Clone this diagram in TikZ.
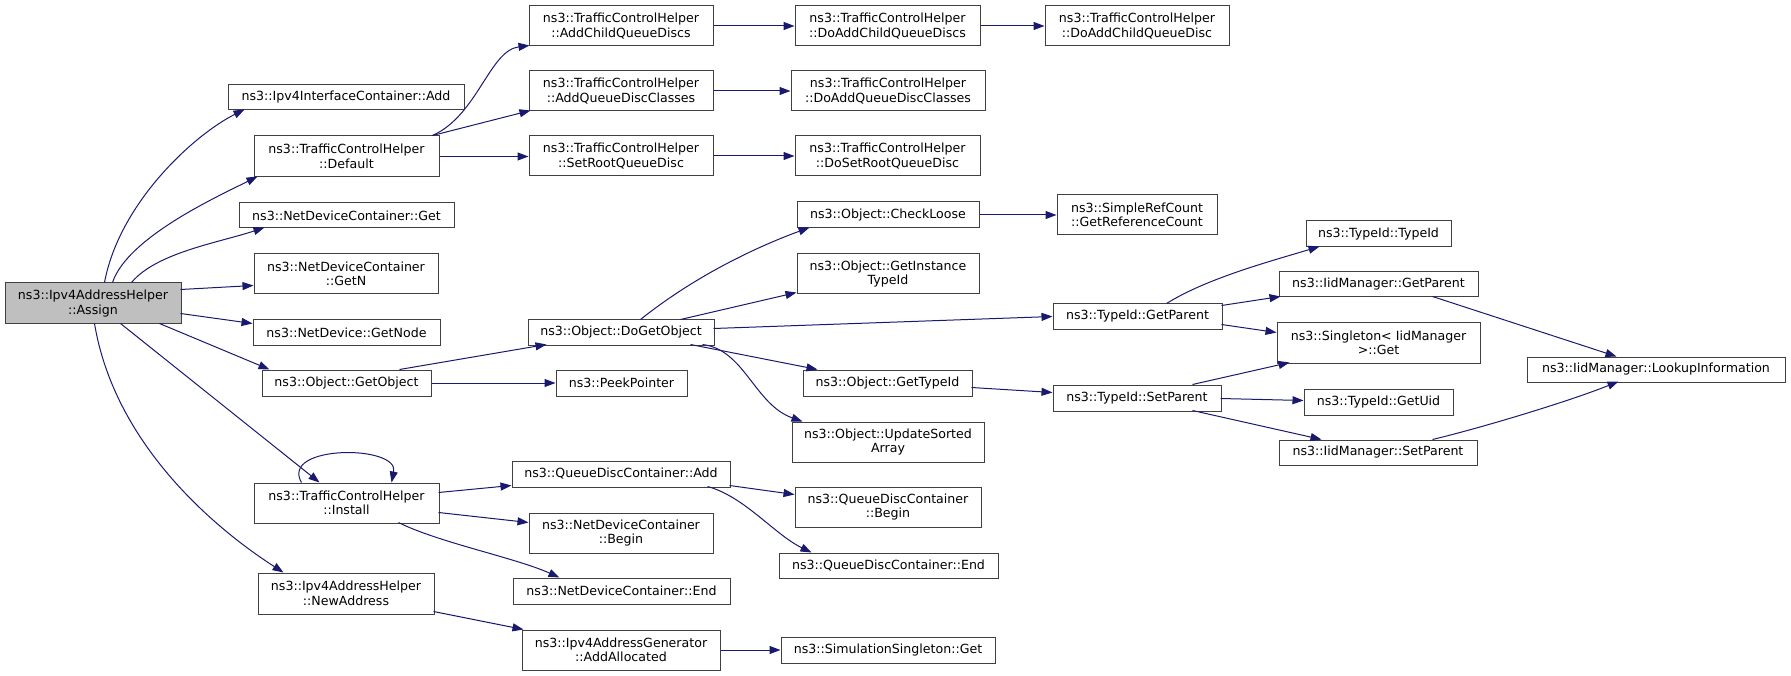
\documentclass[tikz,border=0pt]{standalone}
\usepackage{fontspec}
\setmainfont{DejaVu Sans}
\usetikzlibrary{arrows.meta}
\definecolor{edgec}{HTML}{191970}
\definecolor{bordc}{HTML}{404040}
\definecolor{hlc}{HTML}{BFBFBF}
\tikzset{
  box/.style={draw=bordc, line width=1pt, fill=white, inner sep=0pt, align=center,
    font=\fontsize{12.6}{14.5}\selectfont},
  conn/.style={draw=edgec, line width=1pt, -{Triangle[length=11pt,width=8pt]}},
}
\newcommand{\bx}[7][]{%
  \node[box,#1, minimum width={(#5-#3)*1pt}, minimum height={(#6-#4)*1pt}] (#2) at ({(#3+#5)/2},{(#4+#6)/2}) {#7};}
\begin{document}
\begin{tikzpicture}[x=1pt,y=-1pt]
\useasboundingbox (0,0) rectangle (1791,676);
% column 0
\bx[fill=hlc]{A}{5}{283}{181}{324}{ns3::Ipv4AddressHelper\\::Assign}
% column 1
\bx{IC}{228}{85}{464}{110}{ns3::Ipv4InterfaceContainer::Add}
\bx{DF}{254}{136}{439}{177}{ns3::TrafficControlHelper\\::Default}
\bx{NG}{239}{203}{454}{228}{ns3::NetDeviceContainer::Get}
\bx{NN}{254}{254}{438}{294}{ns3::NetDeviceContainer\\::GetN}
\bx{ND}{253}{320}{440}{345}{ns3::NetDevice::GetNode}
\bx{GO}{262}{370}{431}{396}{ns3::Object::GetObject}
\bx{IN}{254}{483}{439}{523}{ns3::TrafficControlHelper\\::Install}
\bx{NA}{258}{573}{434}{614}{ns3::Ipv4AddressHelper\\::NewAddress}
% column 2
\bx{ACQ}{529}{6}{713}{46}{ns3::TrafficControlHelper\\::AddChildQueueDiscs}
\bx{AQC}{529}{71}{713}{111}{ns3::TrafficControlHelper\\::AddQueueDiscClasses}
\bx{SRQ}{529}{136}{713}{176}{ns3::TrafficControlHelper\\::SetRootQueueDisc}
\bx{DGO}{528}{320}{714}{345}{ns3::Object::DoGetObject}
\bx{PP}{556}{370}{687}{396}{ns3::PeekPointer}
\bx{QA}{512}{461}{730}{487}{ns3::QueueDiscContainer::Add}
\bx{NB}{529}{513}{713}{553}{ns3::NetDeviceContainer\\::Begin}
\bx{NE}{513}{578}{730}{604}{ns3::NetDeviceContainer::End}
\bx{AA}{522}{630}{720}{670}{ns3::Ipv4AddressGenerator\\::AddAllocated}
% column 3
\bx{DACQs}{795}{6}{980}{46}{ns3::TrafficControlHelper\\::DoAddChildQueueDiscs}
\bx{DAQC}{791}{71}{985}{111}{ns3::TrafficControlHelper\\::DoAddQueueDiscClasses}
\bx{DSRQ}{795}{136}{980}{176}{ns3::TrafficControlHelper\\::DoSetRootQueueDisc}
\bx{CL}{797}{202}{979}{228}{ns3::Object::CheckLoose}
\bx{GIT}{797}{254}{979}{294}{ns3::Object::GetInstance\\TypeId}
\bx{GTI}{803}{370}{972}{396}{ns3::Object::GetTypeId}
\bx{USA}{792}{422}{984}{462}{ns3::Object::UpdateSorted\\Array}
\bx{QB}{795}{487}{981}{527}{ns3::QueueDiscContainer\\::Begin}
\bx{QE}{779}{553}{998}{578}{ns3::QueueDiscContainer::End}
\bx{SSG}{781}{637}{995}{663}{ns3::SimulationSingleton::Get}
% column 4
\bx{DACQ}{1045}{6}{1229}{46}{ns3::TrafficControlHelper\\::DoAddChildQueueDisc}
\bx{SRC}{1057}{195}{1217}{235}{ns3::SimpleRefCount\\::GetReferenceCount}
\bx{TGP}{1053}{304}{1222}{329}{ns3::TypeId::GetParent}
\bx{TSP}{1053}{385}{1221}{411}{ns3::TypeId::SetParent}
% column 5
\bx{TTI}{1306}{221}{1451}{247}{ns3::TypeId::TypeId}
\bx{IGP}{1279}{272}{1478}{297}{ns3::IidManager::GetParent}
\bx{SG}{1277}{323}{1480}{363}{ns3::Singleton< IidManager\\ >::Get}
\bx{GU}{1304}{389}{1453}{415}{ns3::TypeId::GetUid}
\bx{ISP}{1279}{440}{1477}{465}{ns3::IidManager::SetParent}
% column 6
\bx{LI}{1527}{357}{1785}{382}{ns3::IidManager::LookupInformation}

% edges from Assign
\draw[conn] ([shift={(100,0)}]A.north west) .. controls +(15,-80) and +(-50,25) .. ([shift={(17,25)}]IC.north west);
\draw[conn] ([shift={(108,0)}]A.north west) .. controls +(15,-45) and +(-40,20) .. ([shift={(4,41)}]DF.north west);
\draw[conn] ([shift={(127,0)}]A.north west) .. controls +(25,-30) and +(-45,15) .. ([shift={(26,25)}]NG.north west);
\draw[conn] ([shift={(176,7)}]A.north west) -- ([shift={(0,32)}]NN.north west);
\draw[conn] ([shift={(176,31)}]A.north west) -- ([shift={(0,4)}]ND.north west);
\draw[conn] ([shift={(155,41)}]A.north west) -- ([shift={(8,0)}]GO.north west);
\draw[conn] ([shift={(116,41)}]A.north west) -- ([shift={(66,0)}]IN.north west);
\draw[conn] ([shift={(90,41)}]A.north west) .. controls +(20,120) and +(-70,-45) .. ([shift={(26,0)}]NA.north west);
% Default
\draw[conn] ([shift={(179,0)}]DF.north west) .. controls +(45,-20) and +(-40,5) .. ([shift={(1,40)}]ACQ.north west);
\draw[conn] ([shift={(179,0)}]DF.north west) -- ([shift={(2,40)}]AQC.north west);
\draw[conn] (DF.east) -- (SRQ.west |- DF.east);
\draw[conn] (ACQ.east) -- (DACQs.west);
\draw[conn] (DACQs.east) -- (DACQ.west);
\draw[conn] (AQC.east) -- (DAQC.west);
\draw[conn] (SRQ.east) -- (DSRQ.west);
% GetObject
\draw[conn] ([shift={(138,0)}]GO.north west) -- ([shift={(19,25)}]DGO.north west);
\draw[conn] (GO.east) -- (PP.west);
% DoGetObject
\draw[conn] ([shift={(113,0)}]DGO.north west) .. controls +(50,-40) and +(-60,22) .. ([shift={(13,26)}]CL.north west);
\draw[conn] ([shift={(153,0)}]DGO.north west) -- ([shift={(0,39)}]GIT.north west);
\draw[conn] ([shift={(186,9)}]DGO.north west) -- ([shift={(0,13)}]TGP.north west);
\draw[conn] ([shift={(163,25)}]DGO.north west) -- ([shift={(15,0)}]GTI.north west);
\draw[conn] ([shift={(175,25)}]DGO.north west) .. controls +(42,5) and +(-48,-17) .. ([shift={(11,0)}]USA.north west);
\draw[conn] (CL.east) -- (SRC.west |- CL.east);
% TypeId::GetParent
\draw[conn] ([shift={(114,0)}]TGP.north west) .. controls +(40,-25) and +(-50,15) .. ([shift={(14,26)}]TTI.north west);
\draw[conn] ([shift={(169,2)}]TGP.north west) -- ([shift={(2,25)}]IGP.north west);
\draw[conn] ([shift={(169,21)}]TGP.north west) -- ([shift={(0,10)}]SG.north west);
\draw[conn] ([shift={(154,25)}]IGP.north west) -- ([shift={(90,0)}]LI.north west);
\draw[conn] ([shift={(169,18)}]GTI.north west) -- ([shift={(0,8)}]TSP.north west);
% TypeId::SetParent
\draw[conn] ([shift={(140,0)}]TSP.north west) -- ([shift={(13,40)}]SG.north west);
\draw[conn] ([shift={(168,14)}]TSP.north west) -- ([shift={(0,12)}]GU.north west);
\draw[conn] ([shift={(140,26)}]TSP.north west) -- ([shift={(43,0)}]ISP.north west);
\draw[conn] ([shift={(154,0)}]ISP.north west) .. controls +(50,-12) and +(-50,20) .. ([shift={(92,25)}]LI.north west);
% Install
\draw[conn] ([shift={(48,0)}]IN.north west) .. controls +(-22,-38) and +(8,-38) .. ([shift={(138,0)}]IN.north west);
\draw[conn] ([shift={(185,10)}]IN.north west) -- ([shift={(0,25)}]QA.north west);
\draw[conn] ([shift={(185,30)}]IN.north west) -- ([shift={(0,10)}]NB.north west);
\draw[conn] ([shift={(145,40)}]IN.north west) .. controls +(40,20) and +(-45,-20) .. ([shift={(47,0)}]NE.north west);
\draw[conn] ([shift={(218,25)}]QA.north west) -- ([shift={(0,8)}]QB.north west);
\draw[conn] ([shift={(196,26)}]QA.north west) .. controls +(37,10) and +(-37,-18) .. ([shift={(33,0)}]QE.north west);
% NewAddress
\draw[conn] ([shift={(176,39)}]NA.north west) -- ([shift={(2,0)}]AA.north west);
\draw[conn] (AA.east) -- (SSG.west |- AA.east);
\end{tikzpicture}
\end{document}
